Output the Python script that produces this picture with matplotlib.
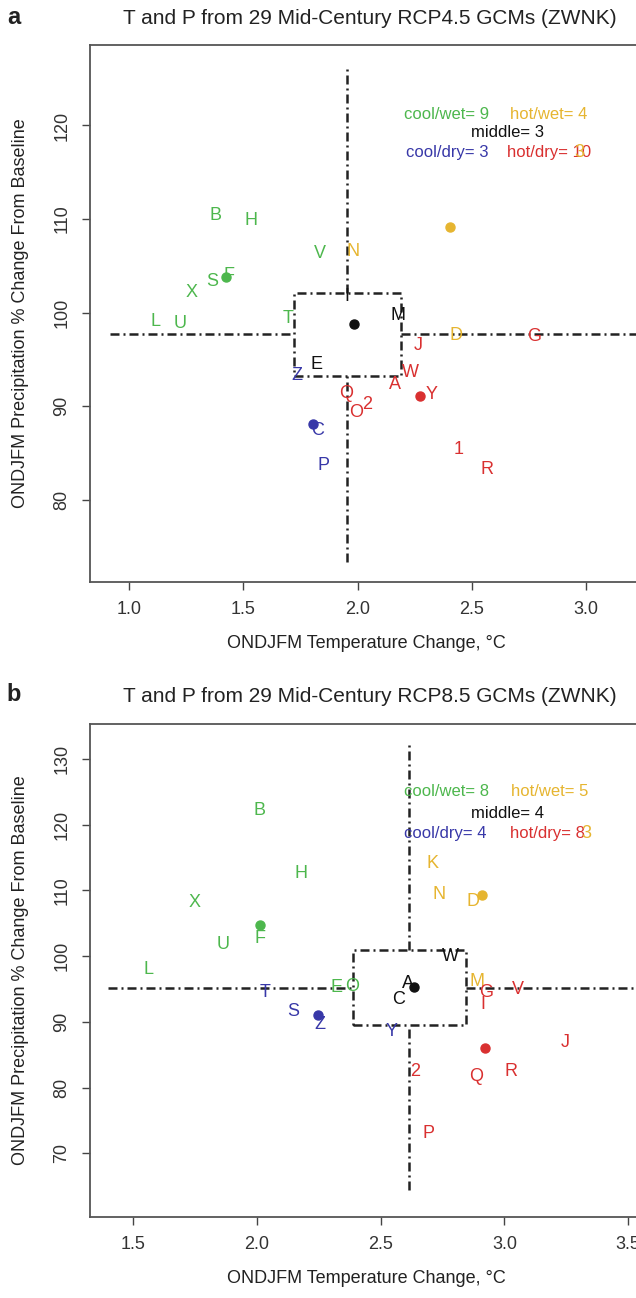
import matplotlib.pyplot as plt

plt.rcParams['font.family'] = ['Liberation Sans', 'DejaVu Sans']

colors = {'cw': '#4DB74D', 'hw': '#E6B530', 'hd': '#D93030', 'cd': '#3838A8', 'mid': '#111111'}

# ---- panel a: RCP4.5 ----
a_labels = ['B', 'H', 'V', 'F', 'S', 'X', 'L', 'U', 'T',
            'N', 'D', '3',
            'J', 'W', 'A', 'Y', 'Q', 'O', '2', '1', 'R', 'G',
            'Z', 'C', 'P',
            'M', 'E', 'I']
a_temp = [1.379, 1.533, 1.834, 1.437, 1.364, 1.276, 1.115, 1.225, 1.695,
          1.981, 2.429, 2.972,
          2.267, 2.230, 2.162, 2.326, 1.952, 1.996, 2.040, 2.441, 2.568, 2.774,
          1.736, 1.827, 1.853,
          2.176, 1.819, 1.952]
a_prec = [110.4, 109.8, 106.3, 104.0, 103.3, 102.1, 99.0, 98.8, 99.4,
          106.5, 97.6, 117.1,
          96.5, 93.6, 92.3, 91.2, 91.3, 89.3, 90.2, 85.4, 83.2, 97.4,
          93.3, 87.4, 83.7,
          99.7, 94.4, 101.7]
a_group = ['cw'] * 9 + ['hw'] * 3 + ['hd'] * 10 + ['cd'] * 3 + ['mid'] * 3
a_dot_temp = [1.427, 2.405, 2.274, 1.805, 1.984]
a_dot_prec = [103.8, 109.2, 91.1, 88.1, 98.8]
a_dot_group = ['cw', 'hw', 'hd', 'cd', 'mid']
a_counts = [9, 4, 3, 3, 10]          # cool/wet, hot/wet, middle, cool/dry, hot/dry
a_t_mid, a_p_mid = 1.954, 97.7
a_t_box, a_p_box = (1.723, 2.191), (93.2, 102.1)
a_t_span, a_p_span = (0.916, 3.5), (73.3, 126.1)

# ---- panel b: RCP8.5 ----
b_labels = ['B', 'H', 'X', 'F', 'U', 'L', 'E', 'O',
            'K', 'N', 'D', 'M', '3',
            'G', 'I', 'V', 'J', 'Q', 'R', '2', 'P',
            'T', 'S', 'Z', 'Y',
            'W', 'C', 'A']
b_temp = [2.009, 2.179, 1.748, 2.013, 1.861, 1.562, 2.321, 2.385,
          2.710, 2.737, 2.873, 2.890, 3.330,
          2.924, 2.911, 3.053, 3.247, 2.886, 3.025, 2.639, 2.694,
          2.033, 2.145, 2.253, 2.545,
          2.782, 2.572, 2.608]
b_prec = [122.2, 112.5, 108.1, 102.7, 101.7, 98.0, 95.2, 95.4,
          114.1, 109.3, 108.3, 96.1, 118.7,
          94.4, 92.7, 94.9, 86.8, 81.6, 82.4, 82.4, 73.0,
          94.4, 91.5, 89.6, 88.5,
          99.9, 93.4, 95.8]
b_group = ['cw'] * 8 + ['hw'] * 5 + ['hd'] * 8 + ['cd'] * 4 + ['mid'] * 3
b_dot_temp = [2.012, 2.911, 2.922, 2.247, 2.633]
b_dot_prec = [104.7, 109.3, 86.0, 91.0, 95.3]
b_dot_group = ['cw', 'hw', 'hd', 'cd', 'mid']
b_counts = [8, 5, 4, 4, 8]
b_t_mid, b_p_mid = 2.614, 95.2
b_t_box, b_p_box = (2.389, 2.843), (89.5, 100.9)
b_t_span, b_p_span = (1.398, 4.0), (64.4, 132.1)

count_names = ['cool/wet', 'hot/wet', 'middle', 'cool/dry', 'hot/dry']
count_groups = ['cw', 'hw', 'mid', 'cd', 'hd']


def panel(ax, labels, temp, prec, group, dt, dp, dg, counts,
          t_mid, p_mid, t_box, p_box, t_span, p_span, count_pos):
    dash = dict(color='#222222', lw=1.8, dashes=(3.6, 1.6, 0.8, 1.6), zorder=1)
    ax.plot([t_span[0], t_box[0]], [p_mid, p_mid], **dash)
    ax.plot([t_box[1], t_span[1]], [p_mid, p_mid], **dash)
    ax.plot([t_mid, t_mid], [p_box[1], p_span[1]], **dash)
    ax.plot([t_mid, t_mid], [p_span[0], p_box[0]], **dash)
    ax.plot([t_box[0], t_box[1], t_box[1], t_box[0], t_box[0]],
            [p_box[0], p_box[0], p_box[1], p_box[1], p_box[0]], **dash)
    for x, y, g in zip(dt, dp, dg):
        ax.plot(x, y, 'o', ms=6.5, color=colors[g], zorder=3)
    for s, x, y, g in zip(labels, temp, prec, group):
        ax.text(x, y, s, color=colors[g], fontsize=13, ha='center', va='center', zorder=4)
    for name, n, g, pos in zip(count_names, counts, count_groups, count_pos):
        ax.text(pos[0], pos[1], f'{name}= {n}', color=colors[g], fontsize=12,
                ha='center', va='center', transform=ax.transAxes)
    ax.set_xlabel('ONDJFM Temperature Change, \u00b0C', fontsize=13, labelpad=12,
                  color='#222222')
    ax.set_ylabel('ONDJFM Precipitation % Change From Baseline', fontsize=13,
                  labelpad=18, color='#222222')
    ax.tick_params(direction='out', length=6, width=1, color='#444444',
                   labelsize=13, pad=8, labelcolor='#333333')
    for lab in ax.get_yticklabels():
        lab.set_rotation(90)
        lab.set_va('center')
    for sp in ax.spines.values():
        sp.set_color('#555555')
        sp.set_linewidth(1.3)


fig = plt.figure(figsize=(6.36, 12.98), dpi=100)
ax1 = fig.add_axes([0.1415, 0.5516, 0.87, 0.4137])
ax2 = fig.add_axes([0.1415, 0.0624, 0.87, 0.3798])

ax1.set_xlim(0.83, 3.25)
ax1.set_ylim(71.2, 128.6)
ax1.set_xticks([1.0, 1.5, 2.0, 2.5, 3.0])
ax1.set_yticks([80, 90, 100, 110, 120])
ax2.set_xlim(1.325, 3.561)
ax2.set_ylim(60.3, 135.3)
ax2.set_xticks([1.5, 2.0, 2.5, 3.0, 3.5])
ax2.set_yticks([70, 80, 90, 100, 110, 120, 130])

pos_a = [(0.645, 0.870), (0.829, 0.870), (0.754, 0.837), (0.646, 0.799), (0.830, 0.799)]
pos_b = [(0.644, 0.863), (0.831, 0.863), (0.755, 0.819), (0.642, 0.778), (0.827, 0.778)]

panel(ax1, a_labels, a_temp, a_prec, a_group, a_dot_temp, a_dot_prec, a_dot_group,
      a_counts, a_t_mid, a_p_mid, a_t_box, a_p_box, a_t_span, a_p_span, pos_a)
panel(ax2, b_labels, b_temp, b_prec, b_group, b_dot_temp, b_dot_prec, b_dot_group,
      b_counts, b_t_mid, b_p_mid, b_t_box, b_p_box, b_t_span, b_p_span, pos_b)

fig.text(370 / 636, 1 - 19 / 1298, 'T and P from 29 Mid-Century RCP4.5 GCMs (ZWNK)',
         ha='center', va='center', fontsize=15, color='#222222')
fig.text(370 / 636, 1 - 697 / 1298, 'T and P from 29 Mid-Century RCP8.5 GCMs (ZWNK)',
         ha='center', va='center', fontsize=15, color='#222222')
fig.text(14 / 636, 1 - 17 / 1298, 'a', ha='center', va='center', fontsize=17,
         fontweight='bold', color='#222222')
fig.text(14 / 636, 1 - 695 / 1298, 'b', ha='center', va='center', fontsize=17,
         fontweight='bold', color='#222222')

fig.savefig('out.png', dpi=100)
